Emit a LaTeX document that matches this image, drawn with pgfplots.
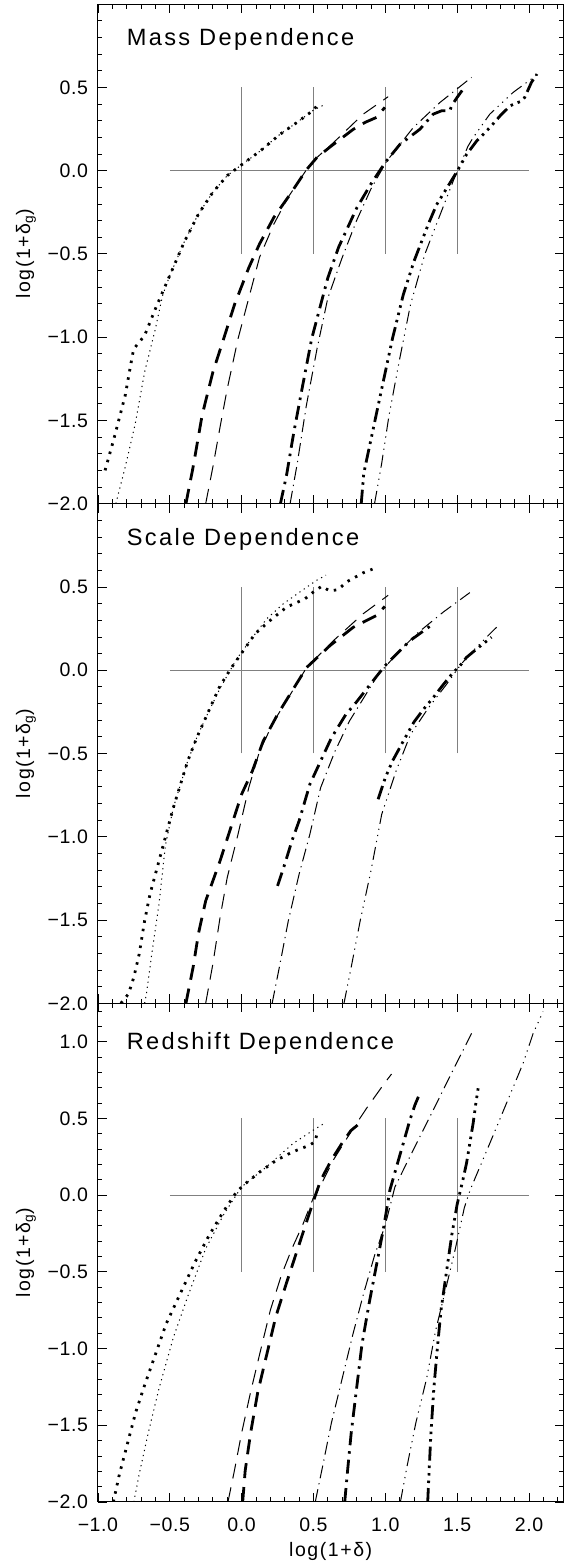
\documentclass[border=0pt]{standalone}
\usepackage{fontspec}
\setmainfont{Liberation Sans}[LetterSpace=3]
\newfontfamily\titlefont{Liberation Sans}[LetterSpace=10]
\newfontfamily\lblfont{Liberation Sans}[LetterSpace=8]
\usepackage{pgfplots}
\pgfplotsset{compat=1.18}
\definecolor{refgray}{gray}{0.5}

\pgfplotsset{
  idlpanel/.style={
    scale only axis, width=465.6pt,
    xmin=-1, xmax=2.24, ymin=-2,
    tick align=inside, major tick length=9pt, minor tick length=4.5pt,
    xtick={-1,-0.5,...,2}, minor xtick={-0.9,-0.8,...,2.2},
    axis line style={line width=1pt},
    tick style={line width=0.8pt, black},
    ticklabel style={font=\fontsize{19.5}{20}\selectfont},
    yticklabel style={anchor=east, inner sep=0pt, xshift=-9.8pt},
    xticklabel style={anchor=north, inner sep=0pt, yshift=-15.7pt},
    ylabel={log(1+δ\textsubscript{g})},
    ylabel style={font=\lblfont\fontsize{19.5}{20}\selectfont, at={(axis description cs:-0.1544,0.5)}, anchor=center},
  },
  upper/.style={height=499.6pt, ymax=1,
    ytick={-2,-1.5,...,0.5}, yticklabels={−2.0,−1.5,−1.0,−0.5,0.0,0.5},
    minor ytick={-1.9,-1.8,...,0.9}, xticklabels={}},
  refl/.style={refgray, line width=1pt},
  thn/.style={black, line width=1pt},
  thk/.style={black, line width=2.8pt},
  dotk/.style={thk, dash pattern=on 2.5pt off 6pt},
  dotn/.style={thn, dash pattern=on 1.2pt off 4pt},
  dask/.style={thk, dash pattern=on 15pt off 9pt},
  dasn/.style={thn, dash pattern=on 15pt off 9pt},
  ddk/.style={thk, dash pattern=on 14pt off 6pt on 2.5pt off 6pt},
  ddn/.style={thn, dash pattern=on 13pt off 5pt on 1.2pt off 5pt},
  d3k/.style={thk, dash pattern=on 14pt off 5pt on 2.5pt off 5pt on 2.5pt off 5pt on 2.5pt off 5pt},
  d3n/.style={thn, dash pattern=on 13pt off 5pt on 1.2pt off 5pt on 1.2pt off 5pt on 1.2pt off 5pt},
}

\newcommand{\reflines}{%
  \addplot[refl] coordinates {(-0.5,0) (2,0)};
  \addplot[refl] coordinates {(0,-0.5) (0,0.5)};
  \addplot[refl] coordinates {(0.5,-0.5) (0.5,0.5)};
  \addplot[refl] coordinates {(1,-0.5) (1,0.5)};
  \addplot[refl] coordinates {(1.5,-0.5) (1.5,0.5)};
}

\begin{document}
\begin{tikzpicture}[x=1pt,y=1pt]
\useasboundingbox (0,0) rectangle (564,1567);

% ---------------- Panel 1: Mass Dependence ----------------
\begin{axis}[idlpanel, upper, at={(97.9pt,1063.3pt)}, anchor=south west]
\reflines
\addplot[dotk] coordinates {(-0.95,-1.80) (-0.89,-1.615) (-0.81,-1.35) (-0.76,-1.11) (-0.75,-1.07) (-0.675,-0.99) (-0.6,-0.83) (-0.5,-0.63) (-0.4,-0.43) (-0.3,-0.26) (-0.2,-0.13) (-0.1,-0.03) (0,0.035) (0.128,0.117) (0.267,0.218) (0.383,0.288) (0.5,0.363) (0.533,0.40)};
\addplot[dotn] coordinates {(-0.875,-2.0) (-0.81,-1.78) (-0.74,-1.52) (-0.675,-1.21) (-0.6,-0.95) (-0.55,-0.75) (-0.5,-0.63) (-0.4,-0.43) (-0.3,-0.26) (-0.2,-0.13) (-0.1,-0.03) (0,0.035) (0.128,0.117) (0.267,0.218) (0.383,0.288) (0.5,0.363) (0.573,0.395)};
\addplot[dask] coordinates {(-0.3875,-2.0) (-0.3375,-1.78) (-0.275,-1.47) (-0.2,-1.21) (-0.125,-1.01) (-0.05,-0.806) (0.05,-0.583) (0.125,-0.44) (0.225,-0.28) (0.325,-0.158) (0.452,0.006) (0.522,0.077) (0.614,0.141) (0.777,0.248) (0.86,0.29) (0.94,0.32) (0.997,0.38)};
\addplot[dasn] coordinates {(-0.25,-2.0) (-0.2,-1.78) (-0.15,-1.54) (-0.1,-1.31) (-0.025,-1.01) (0.05,-0.765) (0.125,-0.52) (0.225,-0.32) (0.325,-0.158) (0.452,0.006) (0.522,0.077) (0.638,0.167) (0.846,0.339) (1.02,0.444)};
\addplot[ddk] coordinates {(0.27,-2.0) (0.3125,-1.83) (0.3625,-1.575) (0.425,-1.29) (0.4875,-1.01) (0.55,-0.806) (0.6,-0.644) (0.675,-0.46) (0.75,-0.32) (0.8,-0.226) (0.9,-0.08) (0.997,0.046) (1.101,0.157) (1.24,0.248) (1.333,0.339) (1.391,0.359) (1.449,0.359) (1.461,0.389) (1.5,0.44) (1.542,0.49)};
\addplot[ddn] coordinates {(0.3375,-2.0) (0.3875,-1.757) (0.45,-1.413) (0.525,-1.069) (0.6,-0.765) (0.7,-0.522) (0.8,-0.3) (0.9,-0.11) (1.009,0.056) (1.194,0.258) (1.38,0.409) (1.6,0.56)};
\addplot[d3k] coordinates {(0.8325,-2.0) (0.85,-1.818) (0.9,-1.615) (0.975,-1.31) (1.05,-1.008) (1.125,-0.745) (1.2,-0.543) (1.3,-0.32) (1.356,-0.206) (1.5,-0.004) (1.565,0.097) (1.635,0.177) (1.727,0.258) (1.8,0.33) (1.87,0.39) (1.94,0.415) (1.97,0.44) (2.017,0.53) (2.055,0.58)};
\addplot[d3n] coordinates {(0.925,-2.0) (0.975,-1.757) (1.025,-1.474) (1.1,-1.13) (1.175,-0.806) (1.275,-0.502) (1.375,-0.279) (1.475,-0.057) (1.575,0.146) (1.611,0.198) (1.727,0.339) (1.89,0.47) (2.064,0.581)};
\node[anchor=base west, font=\titlefont\fontsize{23.6}{28}\selectfont, inner sep=0pt] at (axis cs:-0.80,0.75) {Mass Dependence};
\end{axis}

% ---------------- Panel 2: Scale Dependence ----------------
\begin{axis}[idlpanel, upper, at={(97.9pt,563.7pt)}, anchor=south west]
\reflines
\addplot[dotk] coordinates {(-0.84,-2.0) (-0.7875,-1.944) (-0.75,-1.844) (-0.7125,-1.704) (-0.675,-1.505) (-0.6375,-1.345) (-0.6,-1.225) (-0.5625,-1.105) (-0.525,-0.985) (-0.475,-0.825) (-0.425,-0.685) (-0.375,-0.545) (-0.3125,-0.406) (-0.25,-0.286) (-0.209,-0.206) (-0.151,-0.095) (-0.07,0.016) (0.012,0.117) (0.093,0.218) (0.197,0.298) (0.313,0.379) (0.441,0.429) (0.5,0.47) (0.557,0.504) (0.614,0.476) (0.672,0.484) (0.73,0.53) (0.846,0.585) (0.911,0.607)};
\addplot[dotn] coordinates {(-0.675,-2.0) (-0.6625,-1.944) (-0.625,-1.704) (-0.575,-1.405) (-0.53,-1.05) (-0.475,-0.825) (-0.425,-0.685) (-0.375,-0.545) (-0.3125,-0.406) (-0.25,-0.286) (-0.151,-0.11) (-0.035,0.067) (0.058,0.177) (0.174,0.308) (0.29,0.399) (0.406,0.47) (0.522,0.54) (0.587,0.571)};
\addplot[dask] coordinates {(-0.3875,-2.0) (-0.3375,-1.784) (-0.3,-1.58) (-0.25,-1.385) (-0.2,-1.265) (-0.15,-1.145) (-0.075,-0.945) (0,-0.745) (0.075,-0.605) (0.15,-0.426) (0.25,-0.266) (0.35,-0.126) (0.452,0.016) (0.614,0.147) (0.777,0.258) (0.939,0.329) (0.997,0.383)};
\addplot[dasn] coordinates {(-0.25,-2.0) (-0.2,-1.764) (-0.15,-1.485) (-0.1,-1.245) (-0.025,-0.985) (0.05,-0.705) (0.125,-0.486) (0.225,-0.306) (0.325,-0.166) (0.452,0.016) (0.638,0.177) (0.846,0.339) (1.02,0.45)};
\addplot[ddk] coordinates {(0.25,-1.295) (0.3,-1.165) (0.35,-1.025) (0.4,-0.905) (0.475,-0.685) (0.55,-0.545) (0.625,-0.406) (0.725,-0.266) (0.8,-0.19) (0.904,-0.075) (0.997,0.026) (1.055,0.077) (1.171,0.177) (1.333,0.278)};
\addplot[ddn] coordinates {(0.2125,-2.0) (0.2625,-1.784) (0.325,-1.505) (0.4,-1.225) (0.475,-0.985) (0.55,-0.705) (0.65,-0.486) (0.75,-0.306) (0.85,-0.166) (0.95,-0.026) (1.101,0.117) (1.217,0.218) (1.403,0.349) (1.588,0.466)};
\addplot[d3k] coordinates {(0.95,-0.775) (1.0,-0.645) (1.05,-0.545) (1.125,-0.426) (1.2,-0.31) (1.27,-0.23) (1.333,-0.165) (1.4,-0.09) (1.472,-0.014) (1.519,0.026) (1.565,0.077) (1.635,0.127) (1.739,0.198)};
\addplot[d3n] coordinates {(0.7125,-2.0) (0.7625,-1.784) (0.825,-1.505) (0.9,-1.205) (0.975,-0.865) (1.075,-0.605) (1.175,-0.386) (1.3,-0.226) (1.425,-0.086) (1.525,0.034) (1.611,0.117) (1.762,0.248) (1.79,0.27)};
\node[anchor=base west, font=\titlefont\fontsize{23.6}{28}\selectfont, inner sep=0pt] at (axis cs:-0.80,0.75) {Scale Dependence};
\end{axis}

% ---------------- Panel 3: Redshift Dependence ----------------
\begin{axis}[idlpanel, at={(97.9pt,65pt)}, anchor=south west,
  height=498.7pt, ymax=1.25,
  ytick={-2,-1.5,...,1}, yticklabels={−2.0,−1.5,−1.0,−0.5,0.0,0.5,1.0},
  minor ytick={-1.9,-1.8,...,1.2},
  xticklabels={−1.0,−0.5,0.0,0.5,1.0,1.5,2.0},
  xlabel={log(1+δ)},
  xlabel style={font=\lblfont\fontsize{19.5}{20}\selectfont, at={(axis description cs:0.5,-0.099)}, anchor=center}]
\reflines
\addplot[dotk] coordinates {(-0.8925,-2.0) (-0.85,-1.818) (-0.8,-1.64) (-0.7375,-1.417) (-0.675,-1.239) (-0.6,-1.039) (-0.525,-0.839) (-0.425,-0.638) (-0.325,-0.438) (-0.225,-0.26) (-0.125,-0.105) (-0.0375,0.018) (0.02,0.07) (0.128,0.152) (0.243,0.228) (0.359,0.283) (0.475,0.326) (0.51,0.348) (0.526,0.402)};
\addplot[dotn] coordinates {(-0.75,-2.0) (-0.7125,-1.818) (-0.65,-1.551) (-0.575,-1.261) (-0.475,-0.928) (-0.375,-0.661) (-0.25,-0.349) (-0.125,-0.127) (0,0.054) (0.174,0.185) (0.359,0.337) (0.5,0.424) (0.568,0.463)};
\addplot[dask] coordinates {(0.0075,-2.0) (0.025,-1.795) (0.0625,-1.551) (0.1125,-1.284) (0.175,-1.039) (0.2375,-0.794) (0.3125,-0.572) (0.375,-0.394) (0.4375,-0.216) (0.5,-0.038) (0.55,0.096) (0.625,0.229) (0.7,0.34) (0.76,0.42) (0.835,0.478)};
\addplot[dasn] coordinates {(-0.095,-2.0) (-0.05,-1.795) (0,-1.551) (0.0625,-1.284) (0.125,-1.039) (0.2,-0.75) (0.275,-0.527) (0.35,-0.349) (0.425,-0.194) (0.5,-0.016) (0.545,0.054) (0.638,0.228) (0.754,0.402) (0.869,0.565) (0.985,0.717) (1.043,0.789)};
\addplot[ddk] coordinates {(0.7175,-2.0) (0.7375,-1.795) (0.7625,-1.551) (0.8,-1.261) (0.8375,-0.972) (0.8875,-0.705) (0.9375,-0.461) (0.9875,-0.216) (1.032,0.033) (1.078,0.185) (1.125,0.337) (1.171,0.489) (1.206,0.587) (1.245,0.674)};
\addplot[ddn] coordinates {(0.5125,-2.0) (0.5625,-1.773) (0.625,-1.484) (0.7,-1.195) (0.775,-0.905) (0.85,-0.638) (0.925,-0.394) (1.0,-0.194) (1.067,0.054) (1.194,0.293) (1.333,0.554) (1.472,0.815) (1.6,1.054)};
\addplot[d3k] coordinates {(1.295,-2.0) (1.305,-1.795) (1.3175,-1.551) (1.3375,-1.261) (1.3625,-0.994) (1.3875,-0.75) (1.425,-0.505) (1.4625,-0.26) (1.5,-0.06) (1.54,0.1) (1.565,0.207) (1.588,0.337) (1.611,0.467) (1.63,0.598) (1.646,0.696)};
\addplot[d3n] coordinates {(1.105,-2.0) (1.15,-1.773) (1.2125,-1.484) (1.2875,-1.195) (1.35,-0.883) (1.425,-0.594) (1.4875,-0.349) (1.55,-0.082) (1.59,0.033) (1.727,0.337) (1.843,0.598) (1.959,0.859) (2.029,1.054) (2.098,1.196)};
\node[anchor=base west, font=\titlefont\fontsize{23.6}{28}\selectfont, inner sep=0pt] at (axis cs:-0.80,0.946) {Redshift Dependence};
\end{axis}
\end{tikzpicture}
\end{document}
